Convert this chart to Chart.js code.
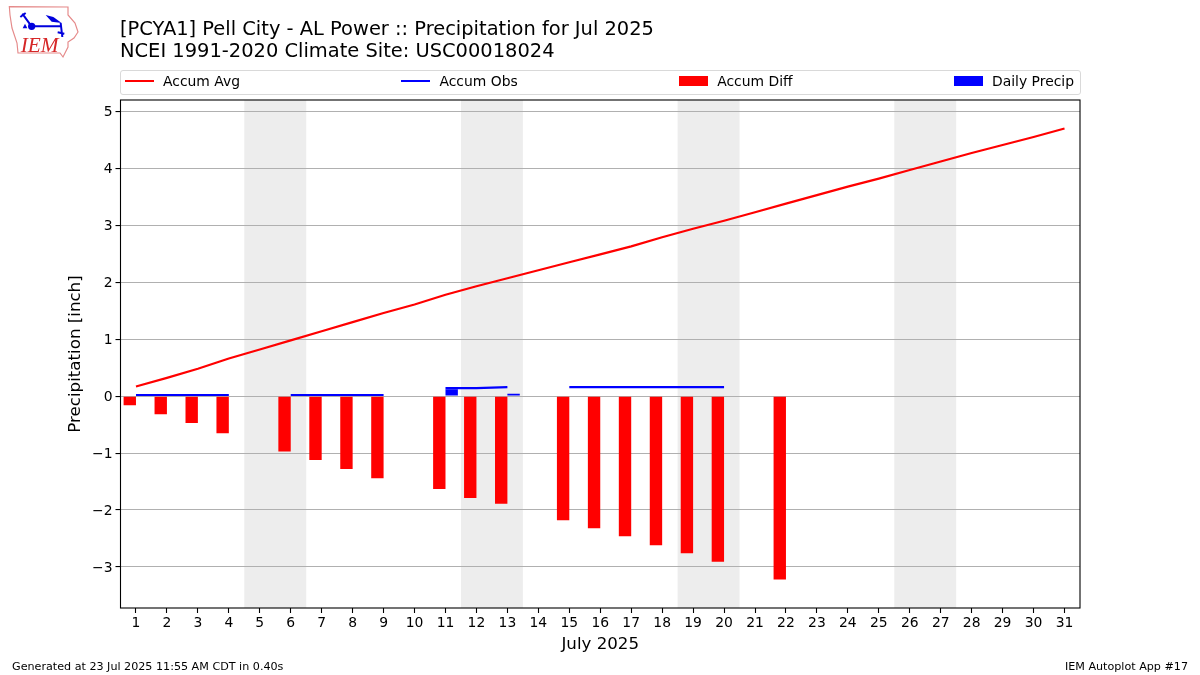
<!DOCTYPE html>
<html>
<head>
<meta charset="utf-8">
<title>Pell City Precipitation</title>
<script src="https://cdn.jsdelivr.net/npm/chart.js@4"></script>
<style>
    html, body { margin: 0; padding: 0; background: #fff; }
    body { position: relative; width: 1200px; height: 675px; overflow: hidden; font-family: "DejaVu Sans", sans-serif; color: #000; }
    #chart-body { position: absolute; left: 0; top: 0; }
    #logo { position: absolute; left: 5px; top: 3px; }
    #title { position: absolute; left: 120px; top: 18px; font-size: 19.45px; line-height: 21.6px; white-space: nowrap; }
    #legend { position: absolute; left: 120px; top: 70px; width: 949px; height: 19px; padding: 0 6px 4px 4px; border: 1px solid #d9d9d9; border-radius: 3px; display: flex; justify-content: space-between; align-items: center; font-size: 13.9px; }
    #legend .item { display: flex; align-items: center; }
    #legend .swatch { width: 29px; margin-right: 9px; }
    .footer { position: absolute; top: 660px; font-size: 11.15px; line-height: 13px; white-space: nowrap; }
</style>
</head>
<body>
<canvas id="chart-body" width="1200" height="675"></canvas>
<svg id="logo" width="80" height="58" viewBox="0 0 240 174">
    <path d="M13 11 L189 12 L189 36 L210 60 L219 87 L207 105 L189 117 L189 132 L174 162 L165 150 L39 150 L36 120 L21 75 L15 36 Z" fill="none" stroke="#e58a8a" stroke-width="3.5"/>
    <path d="M80 70 L170 70 M52 32 L78 68 M46 42 L62 30 M167 60 L172 102 M158 88 L178 92" stroke="#0000dd" stroke-width="6" fill="none"/>
    <circle cx="80" cy="70" r="11" fill="#0000dd"/>
    <path d="M122 36 L145 42 L170 60 L140 56 Z" fill="#0000dd"/>
    <path d="M60 62 L67 76 L53 76 Z" fill="#0000dd"/>
    <text x="47" y="146" font-family="Liberation Serif" font-style="italic" font-size="64" fill="#d62728">IEM</text>
</svg>
<div id="title">[PCYA1] Pell City - AL Power :: Precipitation for Jul 2025<br>NCEI 1991-2020 Climate Site: USC00018024</div>
<div id="legend"></div>
<div class="footer" style="left:12px">Generated at 23 Jul 2025 11:55 AM CDT in 0.40s</div>
<div class="footer" style="right:12px">IEM Autoplot App #17</div>
<script>
const days = ['1','2','3','4','5','6','7','8','9','10','11','12','13','14','15','16','17','18','19','20','21','22','23','24','25','26','27','28','29','30','31'];
const accumAvg = [0.17,0.32,0.48,0.66,0.82,0.98,1.14,1.30,1.46,1.61,1.78,1.93,2.07,2.21,2.35,2.49,2.63,2.79,2.94,3.08,3.23,3.38,3.53,3.68,3.82,3.97,4.12,4.27,4.41,4.55,4.70];
const accumObs = [0.02,0.02,0.02,0.02,null,0.02,0.02,0.02,0.02,null,0.14,0.14,0.16,null,0.16,0.16,0.16,0.16,0.16,0.16,null,null,null,null,null,null,null,null,null,null,null];
const accumDiff = [-0.16,-0.32,-0.47,-0.65,null,-0.97,-1.12,-1.28,-1.44,null,-1.63,-1.79,-1.89,null,-2.18,-2.32,-2.46,-2.62,-2.76,-2.91,null,-3.22,null,null,null,null,null,null,null,null,null];
const dailyPrecip = [null,null,null,null,null,null,null,null,null,null,0.12,null,0.04,null,null,null,null,null,null,null,null,null,null,null,null,null,null,null,null,null,null];
const weekendStarts = ['5','12','19','26'];
const yTicks = [-3,-2,-1,0,1,2,3,4,5];

const font = { family: 'DejaVu Sans', size: 13.9 };
const titleFont = { family: 'DejaVu Sans', size: 16.67 };

// grey weekend bands sit under the grid, frame goes on top of everything
const bandsAndFrame = {
    id: 'bandsAndFrame',
    beforeDraw(chart) {
        const { ctx, chartArea, scales } = chart;
        const step = scales.x.getPixelForValue(1) - scales.x.getPixelForValue(0);
        ctx.save();
        ctx.fillStyle = '#ededed';
        weekendStarts.forEach(d => {
            const left = scales.x.getPixelForValue(days.indexOf(d)) - step / 2;
            ctx.fillRect(left, chartArea.top, step * 2, chartArea.height);
        });
        ctx.restore();
    },
    afterDraw(chart) {
        const { ctx, chartArea } = chart;
        ctx.save();
        ctx.strokeStyle = '#000';
        ctx.lineWidth = 1.1;
        ctx.strokeRect(chartArea.left, chartArea.top, chartArea.width, chartArea.height);
        ctx.restore();
    }
};

const chart = new Chart(document.getElementById('chart-body').getContext('2d'), {
    type: 'bar',
    data: {
        labels: days,
        datasets: [
            { type: 'line', label: 'Accum Avg', data: accumAvg, borderColor: '#ff0000', backgroundColor: '#ff0000', borderWidth: 2.2, pointRadius: 0, tension: 0, order: 1 },
            { type: 'line', label: 'Accum Obs', data: accumObs, borderColor: '#0000ff', backgroundColor: '#0000ff', borderWidth: 2.2, pointRadius: 0, tension: 0, order: 1 },
            { label: 'Accum Diff', data: accumDiff, backgroundColor: '#ff0000', categoryPercentage: 0.8, barPercentage: 1, order: 2 },
            { label: 'Daily Precip', data: dailyPrecip, backgroundColor: '#0000ff', categoryPercentage: 0.8, barPercentage: 1, order: 2 }
        ]
    },
    options: {
        responsive: false,
        animation: false,
        layout: { padding: { left: 0, right: 120, top: 100, bottom: 0 } },
        plugins: { legend: { display: false }, title: { display: false }, tooltip: { enabled: false } },
        scales: {
            x: {
                offset: true,
                afterFit: s => { s.height = 67; },
                grid: { offset: false, drawOnChartArea: false, tickLength: 5, tickColor: '#000', tickWidth: 1.1 },
                border: { display: false },
                ticks: { autoSkip: false, maxRotation: 0, color: '#000', font, padding: 2 },
                title: { display: true, text: 'July 2025', color: '#000', font: titleFont, padding: { top: 5, bottom: 20 } }
            },
            y: {
                min: -3.72,
                max: 5.2,
                afterFit: s => { s.width = 120.5; },
                afterBuildTicks: s => { s.ticks = yTicks.map(value => ({ value })); },
                grid: { color: '#b0b0b0', lineWidth: 1.1, tickColor: '#000', tickLength: 5, tickWidth: 1.1, drawTicks: true },
                border: { display: false },
                ticks: { color: '#000', font, padding: 3, labelOffset: 1, callback: v => String(v).replace('-', '\u2212') },
                title: { display: true, text: 'Precipitation [inch]', color: '#000', font: titleFont, padding: { top: 66, bottom: 0 } }
            }
        }
    },
    plugins: [bandsAndFrame]
});

// html legend so the four entries can spread across the axes width like the original
const legendBox = document.getElementById('legend');
chart.data.datasets.forEach(ds => {
    const item = document.createElement('div');
    item.className = 'item';
    const swatch = document.createElement('span');
    swatch.className = 'swatch';
    swatch.style.height = ds.type === 'line' ? '2px' : '10px';
    swatch.style.background = ds.backgroundColor;
    item.appendChild(swatch);
    item.appendChild(document.createTextNode(ds.label));
    legendBox.appendChild(item);
});
</script>
</body>
</html>
